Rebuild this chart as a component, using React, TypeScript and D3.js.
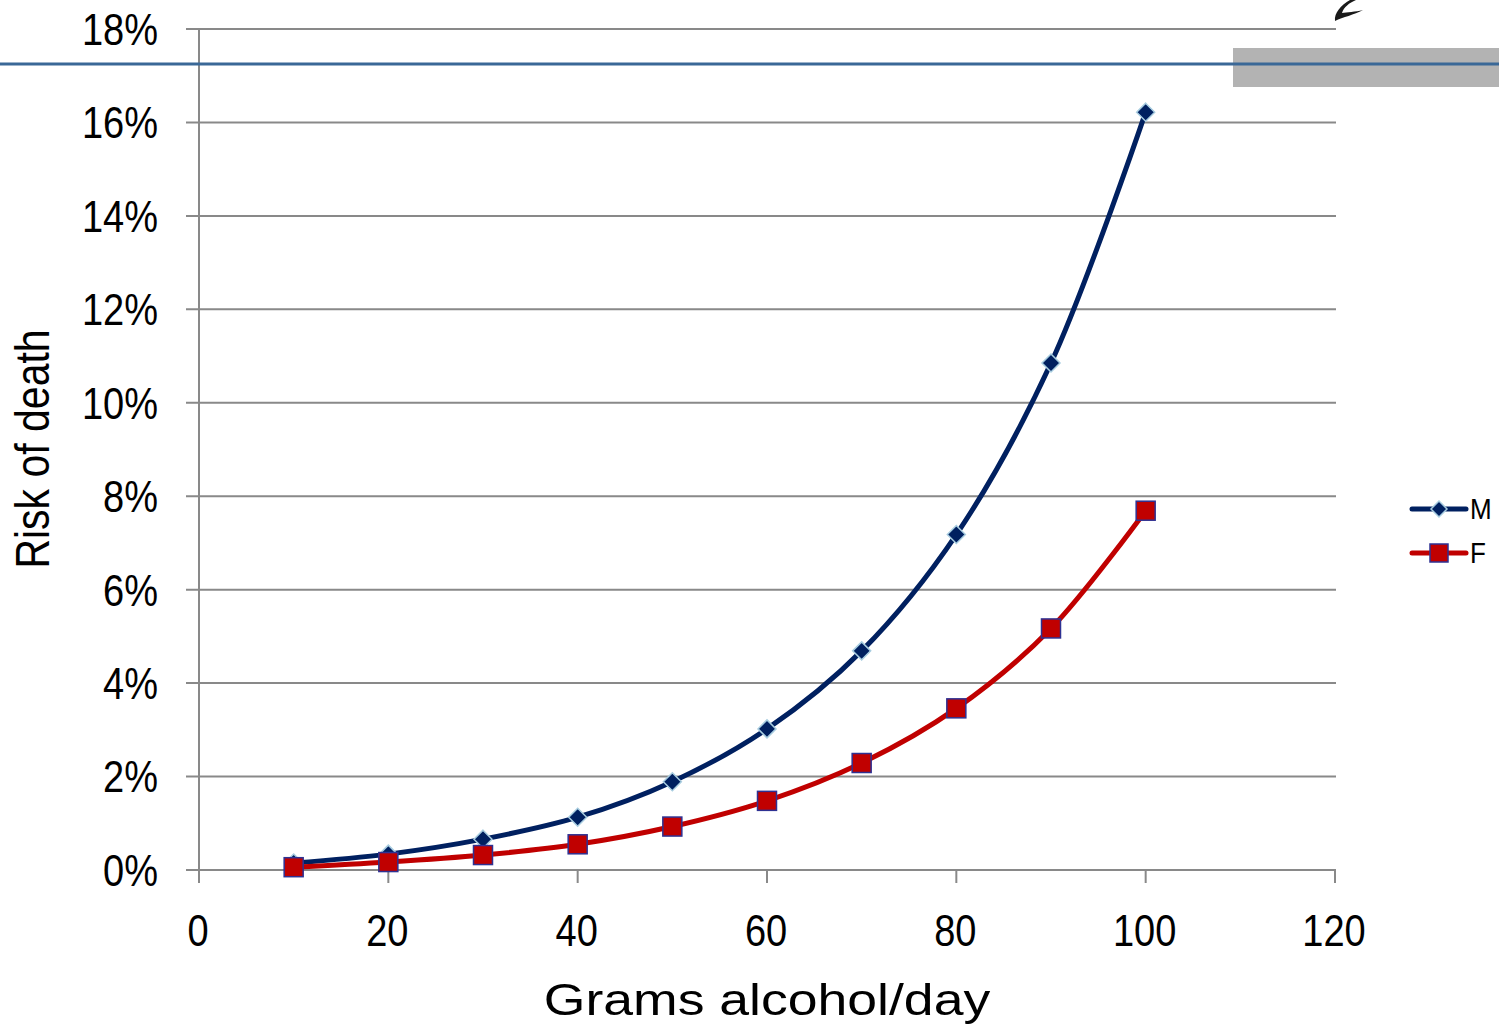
import React from "react";
import * as d3 from "d3";

const grams = [10, 20, 30, 40, 50, 60, 70, 80, 90, 100];
const riskM = [0.15, 0.34, 0.66, 1.13, 1.89, 3.02, 4.69, 7.18, 10.85, 16.22];
const riskF = [0.06, 0.17, 0.32, 0.55, 0.93, 1.48, 2.29, 3.46, 5.17, 7.69];
const xTicks = [0, 20, 40, 60, 80, 100, 120];
const yTicks = [0, 2, 4, 6, 8, 10, 12, 14, 16, 18];
const seriesNames = ["M", "F"];

const W = 1499;
const H = 1035;
const FONT = "Liberation Sans, Arial, sans-serif";

export default function App() {
  const x = d3.scaleLinear().domain([0, 120]).range([199, 1335]);
  const y = d3.scaleLinear().domain([0, 18]).range([870, 29]);
  const line = d3
    .line<number>()
    .x((_, i) => x(grams[i]))
    .y((d) => y(d))
    .curve(d3.curveCatmullRom.alpha(0.5));
  const grid = "#898989";
  const navy = "#002060";
  const red = "#c00000";

  const diamond = (cx: number, cy: number, r: number) =>
    `M${cx},${cy - r}L${cx + r},${cy}L${cx},${cy + r}L${cx - r},${cy}Z`;

  return (
    <svg
      width={W}
      height={H}
      style={{ position: "absolute", left: 0, top: 0, background: "#fff" }}
      fontFamily={FONT}
    >
      <rect x={0} y={0} width={W} height={H} fill="#fff" />
      {/* gridlines */}
      {yTicks.map((t) => (
        <line key={"g" + t} x1={186} x2={1336} y1={y(t)} y2={y(t)} stroke={grid} strokeWidth={2} />
      ))}
      {yTicks.map((t) => (
        <text
          key={"yl" + t}
          transform={`translate(158,${y(t)}) scale(1,1.16)`}
          dy="0.36em"
          textAnchor="end"
          fontSize={38}
          fill="#000"
        >
          {t + "%"}
        </text>
      ))}
      {/* y axis */}
      <line x1={199} x2={199} y1={29} y2={883} stroke={grid} strokeWidth={2} />
      {/* x ticks */}
      {xTicks.map((t) => (
        <line key={"xt" + t} x1={x(t)} x2={x(t)} y1={870} y2={883} stroke={grid} strokeWidth={2} />
      ))}
      {xTicks.map((t) => (
        <text
          key={"xl" + t}
          transform={`translate(${x(t) - 1},946) scale(1,1.16)`}
          textAnchor="middle"
          fontSize={38}
          fill="#000"
        >
          {t}
        </text>
      ))}
      <text
        transform="translate(767,1015) scale(1.19,1)"
        textAnchor="middle"
        fontSize={45}
        fill="#000"
      >
        Grams alcohol/day
      </text>
      <text
        transform="translate(49,449) rotate(-90) scale(1,1.15)"
        textAnchor="middle"
        fontSize={41}
        fill="#000"
      >
        Risk of death
      </text>

      {/* series */}
      <path d={line(riskM) || ""} fill="none" stroke={navy} strokeWidth={5} />
      <path d={line(riskF) || ""} fill="none" stroke={red} strokeWidth={5} />
      {riskM.map((v, i) => (
        <path
          key={"m" + i}
          d={diamond(x(grams[i]), y(v), 9)}
          fill={navy}
          stroke="#a8cde0"
          strokeWidth={1.5}
        />
      ))}
      {riskF.map((v, i) => (
        <rect
          key={"f" + i}
          x={x(grams[i]) - 9.5}
          y={y(v) - 9.5}
          width={19}
          height={19}
          fill={red}
          stroke="#2e3192"
          strokeWidth={1.5}
        />
      ))}

      {/* legend */}
      <line x1={1412} x2={1466} y1={509} y2={509} stroke={navy} strokeWidth={5} strokeLinecap="round" />
      <path d={diamond(1439, 509, 8)} fill={navy} stroke="#a8cde0" strokeWidth={1.5} />
      <text transform="translate(1470,509) scale(1,1.1)" dy="0.36em" fontSize={26} fill="#000">
        {seriesNames[0]}
      </text>
      <line x1={1412} x2={1466} y1={553} y2={553} stroke={red} strokeWidth={5} strokeLinecap="round" />
      <rect x={1430} y={544} width={18} height={18} fill={red} stroke="#2e3192" strokeWidth={1.5} />
      <text transform="translate(1470,553) scale(1,1.1)" dy="0.36em" fontSize={26} fill="#000">
        {seriesNames[1]}
      </text>

      {/* decorative overlay */}
      <rect x={1233} y={48} width={266} height={39} fill="#b3b3b3" />
      <line x1={0} x2={W} y1={64} y2={64} stroke="#3a6897" strokeWidth={3} />
      <path
        d="M1350,0 C1341,5 1334,13 1335,21 C1343,17 1354,15 1363,10 C1355,12 1347,12 1342,13 C1344,7 1349,3 1356,0 Z"
        fill="#1a1a1a"
      />
    </svg>
  );
}
